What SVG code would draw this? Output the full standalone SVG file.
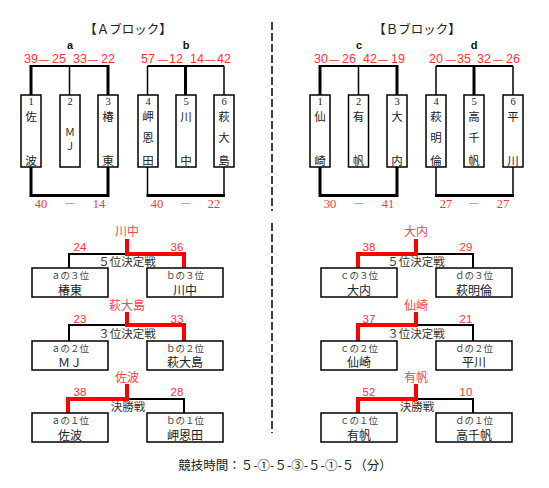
<svg xmlns="http://www.w3.org/2000/svg" width="549" height="488" viewBox="0 0 549 488">
<style>
.bg{fill:#fff}
.box{fill:#fff;stroke:#000;stroke-width:1.5}
.jp{font-family:"Noto Sans CJK JP","Noto Sans",sans-serif;fill:#222;text-anchor:middle}
.hd{font-size:12.5px}
.num{font-family:"Liberation Serif",serif;font-size:10.5px;fill:#223;text-anchor:middle}
.ch{font-size:11.5px}
.grp{font-family:"Liberation Sans",sans-serif;font-size:11px;font-weight:bold;fill:#111;text-anchor:middle}
.sc{font-family:"Liberation Sans",sans-serif;font-size:12.5px;fill:#ff3333;text-anchor:middle}
.scd{font-family:"Liberation Sans",sans-serif;font-size:10px;fill:#ff3333;text-anchor:middle}
.sb{font-family:"Liberation Serif",serif;font-size:12.5px;fill:#ff3333;text-anchor:middle}
.sbd{font-family:"Liberation Serif",serif;font-size:9px;fill:#ff3333;text-anchor:middle}
.win{font-family:"Noto Sans CJK JP",sans-serif;font-size:12px;fill:#ff4444;text-anchor:middle}
.ws{font-family:"Liberation Sans",sans-serif;font-size:11.5px;fill:#ff3333;text-anchor:middle}
.lbl{font-family:"Noto Sans CJK JP",sans-serif;font-size:11.5px;fill:#333;text-anchor:middle}
.rk{font-family:"Noto Sans CJK JP",sans-serif;font-size:9.5px;fill:#444;text-anchor:middle}
.bx{font-size:12px}
.tm{font-family:"Noto Sans CJK JP",sans-serif;font-size:12.5px;fill:#222;text-anchor:middle}
.k{fill:none;stroke:#000;stroke-width:1.5}
.kk{fill:none;stroke:#000;stroke-width:3}
.kb{fill:none;stroke:#000;stroke-width:2}
.r{fill:none;stroke:#ff0000;stroke-width:4}
.dash{fill:none;stroke:#000;stroke-width:1.5;stroke-dasharray:8 3}
</style>
<rect class="bg" width="549" height="488"/>

<!-- headers -->
<text class="jp hd" x="128" y="34">【Ａブロック】</text>
<text class="jp hd" x="417" y="34">【Ｂブロック】</text>
<text class="grp" x="70" y="49">a</text>
<text class="grp" x="186" y="49">b</text>
<text class="grp" x="359" y="49">c</text>
<text class="grp" x="474" y="49">d</text>

<!-- top scores -->
<g id="scores-top">
<text class="sc" x="31" y="63">39</text><text class="scd" x="44" y="62.5">—</text><text class="sc" x="59" y="63">25</text>
<text class="sc" x="80" y="63">33</text><text class="scd" x="93" y="62.5">—</text><text class="sc" x="108" y="63">22</text>
<text class="sc" x="148" y="63">57</text><text class="scd" x="163" y="62.5">—</text><text class="sc" x="176" y="63">12</text>
<text class="sc" x="197" y="63">14</text><text class="scd" x="210" y="62.5">—</text><text class="sc" x="224" y="63">42</text>
<text class="sc" x="321" y="63">30</text><text class="scd" x="334" y="62.5">—</text><text class="sc" x="349" y="63">26</text>
<text class="sc" x="370" y="63">42</text><text class="scd" x="383" y="62.5">—</text><text class="sc" x="398" y="63">19</text>
<text class="sc" x="436" y="63">20</text><text class="scd" x="451" y="62.5">—</text><text class="sc" x="464" y="63">35</text>
<text class="sc" x="484" y="63">32</text><text class="scd" x="498" y="62.5">—</text><text class="sc" x="513" y="63">26</text>
</g>

<!-- connectors -->
<g id="connectors">
<line class="dash" x1="272" y1="22" x2="272" y2="211"/>
<line class="dash" x1="272" y1="223" x2="272" y2="433"/>
<line class="kb" x1="31" y1="66" x2="108" y2="66"/>
<line class="kk" x1="31" y1="65" x2="31" y2="95"/><line class="k" x1="69.5" y1="66" x2="69.5" y2="95"/><line class="kk" x1="108" y1="65" x2="108" y2="95"/>
<line class="kb" x1="147.5" y1="66" x2="224" y2="66"/>
<line class="k" x1="147.5" y1="66" x2="147.5" y2="95"/><line class="kk" x1="185.5" y1="65" x2="185.5" y2="95"/><line class="k" x1="224" y1="66" x2="224" y2="95"/>
<line class="kb" x1="320" y1="66" x2="397" y2="66"/>
<line class="kk" x1="320" y1="65" x2="320" y2="95"/><line class="k" x1="358.5" y1="66" x2="358.5" y2="95"/><line class="kk" x1="397" y1="65" x2="397" y2="95"/>
<line class="kb" x1="436" y1="66" x2="513" y2="66"/>
<line class="k" x1="436" y1="66" x2="436" y2="95"/><line class="kk" x1="474" y1="65" x2="474" y2="95"/><line class="k" x1="513" y1="66" x2="513" y2="95"/>
<polyline class="kk" points="31,167 31,195.5 108,195.5 108,167"/>
<polyline class="k" points="147.5,167 147.5,196"/><polyline class="k" points="224,167 224,196"/>
<line class="kk" x1="146.5" y1="195.5" x2="225" y2="195.5"/>
<polyline class="kk" points="320,167 320,195.5 397,195.5 397,167"/>
<polyline class="k" points="436,167 436,196"/><polyline class="k" points="513,167 513,196"/>
<line class="kk" x1="435" y1="195.5" x2="514" y2="195.5"/>
<polyline class="kb" points="69,268 69,254 127,254"/>
<polyline class="r" points="127,239 127,254 184,254 184,268"/>
<polyline class="kb" points="69,341 69,325 127,325"/>
<polyline class="r" points="127,312 127,325 184,325 184,341"/>
<polyline class="kb" points="127,399 184,399 184,413"/>
<polyline class="r" points="127,384 127,399 68,399 68,413"/>
<polyline class="kb" points="473,268 473,254 416,254"/>
<polyline class="r" points="416,239 416,254 358,254 358,268"/>
<polyline class="kb" points="473,341 473,325 416,325"/>
<polyline class="r" points="416,312 416,325 358,325 358,341"/>
<polyline class="kb" points="416,399 473,399 473,413"/>
<polyline class="r" points="416,384 416,399 358,399 358,413"/>
</g>

<!-- A block teams -->
<g id="a1"><rect class="box" x="21" y="95" width="20" height="72"/><text class="num" x="31" y="104.5">1</text><text class="jp ch" x="31" y="121">佐</text><text class="jp ch" x="31" y="164.5">波</text></g>
<g id="a2"><rect class="box" x="60" y="95" width="20" height="72"/><text class="num" x="70" y="104.5">2</text><text class="jp" style="font-size:10px" x="70" y="136">Ｍ</text><text class="jp" style="font-size:10px" x="70" y="150">Ｊ</text></g>
<g id="a3"><rect class="box" x="98" y="95" width="20" height="72"/><text class="num" x="108" y="104.5">3</text><text class="jp ch" x="108" y="121">椿</text><text class="jp ch" x="108" y="164.5">東</text></g>
<g id="b4"><rect class="box" x="138" y="95" width="20" height="72"/><text class="num" x="148" y="104.5">4</text><text class="jp ch" x="148" y="121">岬</text><text class="jp ch" x="148" y="142">恩</text><text class="jp ch" x="148" y="164.5">田</text></g>
<g id="b5"><rect class="box" x="176" y="95" width="20" height="72"/><text class="num" x="186" y="104.5">5</text><text class="jp ch" x="186" y="121">川</text><text class="jp ch" x="186" y="164.5">中</text></g>
<g id="b6"><rect class="box" x="214" y="95" width="20" height="72"/><text class="num" x="224" y="104.5">6</text><text class="jp ch" x="224" y="121">萩</text><text class="jp ch" x="224" y="142">大</text><text class="jp ch" x="224" y="164.5">島</text></g>

<!-- B block teams -->
<g id="c1"><rect class="box" x="310" y="95" width="20" height="72"/><text class="num" x="320" y="104.5">1</text><text class="jp ch" x="320" y="121">仙</text><text class="jp ch" x="320" y="164.5">崎</text></g>
<g id="c2"><rect class="box" x="348.5" y="95" width="20" height="72"/><text class="num" x="358.5" y="104.5">2</text><text class="jp ch" x="358.5" y="121">有</text><text class="jp ch" x="358.5" y="164.5">帆</text></g>
<g id="c3"><rect class="box" x="387" y="95" width="20" height="72"/><text class="num" x="397" y="104.5">3</text><text class="jp ch" x="397" y="121">大</text><text class="jp ch" x="397" y="164.5">内</text></g>
<g id="d4"><rect class="box" x="426" y="95" width="20" height="72"/><text class="num" x="436" y="104.5">4</text><text class="jp ch" x="436" y="121">萩</text><text class="jp ch" x="436" y="142">明</text><text class="jp ch" x="436" y="164.5">倫</text></g>
<g id="d5"><rect class="box" x="464" y="95" width="20" height="72"/><text class="num" x="474" y="104.5">5</text><text class="jp ch" x="474" y="121">高</text><text class="jp ch" x="474" y="142">千</text><text class="jp ch" x="474" y="164.5">帆</text></g>
<g id="d6"><rect class="box" x="503" y="95" width="20" height="72"/><text class="num" x="513" y="104.5">6</text><text class="jp ch" x="513" y="121">平</text><text class="jp ch" x="513" y="164.5">川</text></g>

<g id="scores-bottom">
<text class="sb" x="41" y="207.5">40</text><text class="sbd" x="70" y="205">—</text><text class="sb" x="99" y="207.5">14</text>
<text class="sb" x="157" y="207.5">40</text><text class="sbd" x="186" y="205">—</text><text class="sb" x="214" y="207.5">22</text>
<text class="sb" x="330" y="207.5">30</text><text class="sbd" x="359" y="205">—</text><text class="sb" x="388" y="207.5">41</text>
<text class="sb" x="446" y="207.5">27</text><text class="sbd" x="474" y="205">—</text><text class="sb" x="503" y="207.5">27</text>
</g>

<!-- A finals -->
<g id="a-5th">
<text class="win" x="127" y="235.5">川中</text>
<text class="ws" x="80" y="251">24</text><text class="ws" x="177" y="251">36</text>
<text class="lbl" x="127" y="265.5">５位決定戦</text>
</g>
<g id="a3rd"><rect class="box" x="32" y="268" width="76" height="29"/><text class="rk" x="70" y="278.5">ａの３位</text><text class="jp bx" x="70" y="294.5">椿東</text></g>
<g id="b3rd"><rect class="box" x="147" y="268" width="76" height="29"/><text class="rk" x="185" y="278.5">ｂの３位</text><text class="jp bx" x="185" y="294.5">川中</text></g>
<g id="a-3rd">
<text class="win" x="127" y="309.5">萩大島</text>
<text class="ws" x="80" y="323">23</text><text class="ws" x="177" y="323">33</text>
<text class="lbl" x="127" y="337.5">３位決定戦</text>
</g>
<g id="a2nd"><rect class="box" x="32" y="341" width="76" height="29"/><text class="rk" x="70" y="351.5">ａの２位</text><text class="jp bx" x="70" y="367">ＭＪ</text></g>
<g id="b2nd"><rect class="box" x="147" y="341" width="76" height="29"/><text class="rk" x="185" y="351.5">ｂの２位</text><text class="jp bx" x="185" y="367">萩大島</text></g>
<g id="a-final">
<text class="win" x="127" y="381.5">佐波</text>
<text class="ws" x="80" y="396">38</text><text class="ws" x="177" y="396">28</text>
<text class="lbl" x="128" y="410.5">決勝戦</text>
</g>
<g id="a1st"><rect class="box" x="32" y="413" width="76" height="29"/><text class="rk" x="70" y="424">ａの１位</text><text class="jp bx" x="70" y="440">佐波</text></g>
<g id="b1st"><rect class="box" x="147" y="413" width="76" height="29"/><text class="rk" x="185" y="424">ｂの１位</text><text class="jp bx" x="185" y="440">岬恩田</text></g>

<!-- B finals -->
<g id="b-5th">
<text class="win" x="416" y="235.5">大内</text>
<text class="ws" x="369" y="251">38</text><text class="ws" x="466" y="251">29</text>
<text class="lbl" x="416" y="265.5">５位決定戦</text>
</g>
<g id="c3rd"><rect class="box" x="321" y="268" width="76" height="29"/><text class="rk" x="359" y="278.5">ｃの３位</text><text class="jp bx" x="359" y="294.5">大内</text></g>
<g id="d3rd"><rect class="box" x="436" y="268" width="76" height="29"/><text class="rk" x="474" y="278.5">ｄの３位</text><text class="jp bx" x="474" y="294.5">萩明倫</text></g>
<g id="b-3rd">
<text class="win" x="416" y="309.5">仙崎</text>
<text class="ws" x="369" y="323">37</text><text class="ws" x="466" y="323">21</text>
<text class="lbl" x="416" y="337.5">３位決定戦</text>
</g>
<g id="c2nd"><rect class="box" x="321" y="341" width="76" height="29"/><text class="rk" x="359" y="351.5">ｃの２位</text><text class="jp bx" x="359" y="367">仙崎</text></g>
<g id="d2nd"><rect class="box" x="436" y="341" width="76" height="29"/><text class="rk" x="474" y="351.5">ｄの２位</text><text class="jp bx" x="474" y="367">平川</text></g>
<g id="b-final">
<text class="win" x="416" y="381.5">有帆</text>
<text class="ws" x="369" y="396">52</text><text class="ws" x="466" y="396">10</text>
<text class="lbl" x="417" y="410.5">決勝戦</text>
</g>
<g id="c1st"><rect class="box" x="321" y="413" width="76" height="29"/><text class="rk" x="359" y="424">ｃの１位</text><text class="jp bx" x="359" y="440">有帆</text></g>
<g id="d1st"><rect class="box" x="436" y="413" width="76" height="29"/><text class="rk" x="474" y="424">ｄの１位</text><text class="jp bx" x="474" y="440">高千帆</text></g>

<text class="tm" x="285" y="469.5">競技時間：５-①-５-③-５-①-５（分）</text>
</svg>
